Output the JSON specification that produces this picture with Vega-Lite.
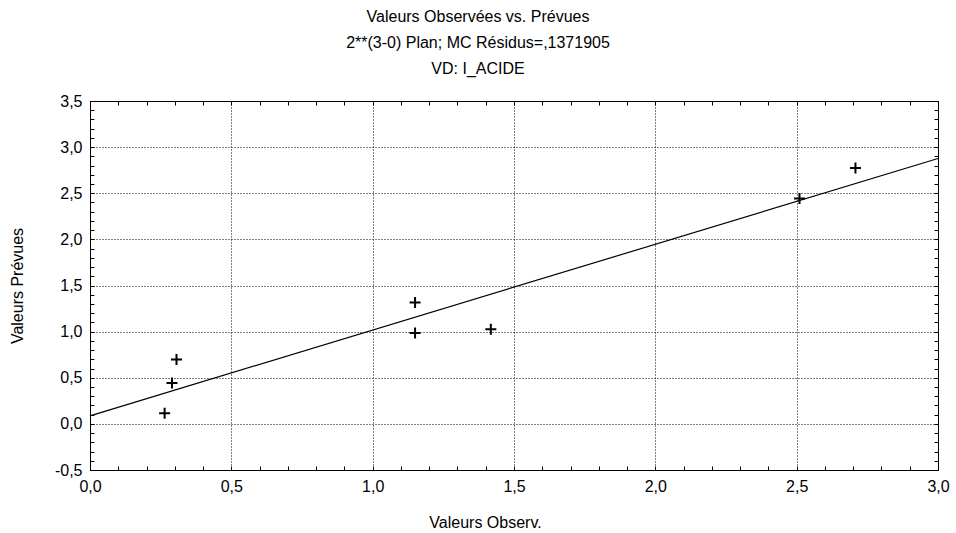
{
  "$schema": "https://vega.github.io/schema/vega-lite/v6.json",
  "autosize": {"type": "none"},
  "padding": {"left": 90, "top": 101, "right": 18, "bottom": 63},
  "width": 848,
  "height": 369,
  "background": "white",
  "config": {
    "font": "Liberation Sans",
    "view": {"stroke": "black", "strokeWidth": 1},
    "axis": {
      "labelFont": "Liberation Sans",
      "titleFont": "Liberation Sans",
      "labelFontSize": 16,
      "titleFontSize": 16,
      "titleFontWeight": "normal",
      "labelColor": "black",
      "titleColor": "black",
      "domainColor": "black",
      "tickColor": "black",
      "gridColor": "black",
      "gridDash": [1, 2],
      "tickSize": -4
    }
  },
  "title": {
    "text": ["Valeurs Observées vs. Prévues", "2**(3-0) Plan; MC Résidus=,1371905", "VD: I_ACIDE"],
    "font": "Liberation Sans",
    "fontSize": 16,
    "fontWeight": "normal",
    "color": "black",
    "lineHeight": 26,
    "anchor": "middle",
    "dx": -36,
    "offset": 16
  },
  "datasets": {
    "points": [
      {"obs": 0.264, "pred": 0.116},
      {"obs": 0.29, "pred": 0.444},
      {"obs": 0.306, "pred": 0.697},
      {"obs": 1.15, "pred": 1.317},
      {"obs": 1.15, "pred": 0.985},
      {"obs": 1.418, "pred": 1.025},
      {"obs": 2.51, "pred": 2.443},
      {"obs": 2.708, "pred": 2.775}
    ],
    "fit": [
      {"obs": 0, "pred": 0.087},
      {"obs": 3, "pred": 2.877}
    ]
  },
  "layer": [
    {
      "data": {"name": "points"},
      "mark": {"type": "point", "shape": "M-1,0H1M0,-1V1", "filled": false, "stroke": "black", "strokeWidth": 2, "size": 121, "opacity": 1},
      "encoding": {
        "x": {
          "field": "obs", "type": "quantitative",
          "scale": {"domain": [0, 3], "nice": false, "zero": false},
          "axis": {
            "orient": "bottom",
            "title": "Valeurs Observ.",
            "titleX": 395,
            "titleAnchor": "start",
            "titleAlign": "center",
            "titlePadding": 20,
            "tickCount": 30,
            "labelPadding": 12,
            "labelFlush": false,
            "labelExpr": "abs(datum.value*2 - round(datum.value*2)) < 0.000001 ? replace(replace(format(datum.value, '.1f'), '.', ','), '\u2212', '-') : ''",
            "grid": true,
            "gridOpacity": {"condition": {"test": "abs(datum.value*2 - round(datum.value*2)) < 0.000001", "value": 1}, "value": 0}
          }
        },
        "y": {
          "field": "pred", "type": "quantitative",
          "scale": {"domain": [-0.5, 3.5], "nice": false, "zero": false},
          "axis": {
            "orient": "left",
            "title": "Valeurs Prévues",
            "titlePadding": 29,
            "tickCount": 40,
            "labelPadding": 12,
            "labelFlush": false,
            "labelExpr": "abs(datum.value*2 - round(datum.value*2)) < 0.000001 ? replace(replace(format(datum.value, '.1f'), '.', ','), '\u2212', '-') : ''",
            "grid": true,
            "gridOpacity": {"condition": {"test": "abs(datum.value*2 - round(datum.value*2)) < 0.000001", "value": 1}, "value": 0}
          }
        }
      }
    },
    {
      "data": {"name": "fit"},
      "mark": {"type": "line", "color": "black", "strokeWidth": 1.2},
      "encoding": {
        "x": {
          "field": "obs", "type": "quantitative",
          "axis": {"orient": "top", "title": null, "labels": false, "grid": false, "tickCount": 30}
        },
        "y": {
          "field": "pred", "type": "quantitative",
          "axis": {"orient": "right", "title": null, "labels": false, "grid": false, "tickCount": 40}
        }
      }
    }
  ],
  "resolve": {"axis": {"x": "independent", "y": "independent"}}
}
